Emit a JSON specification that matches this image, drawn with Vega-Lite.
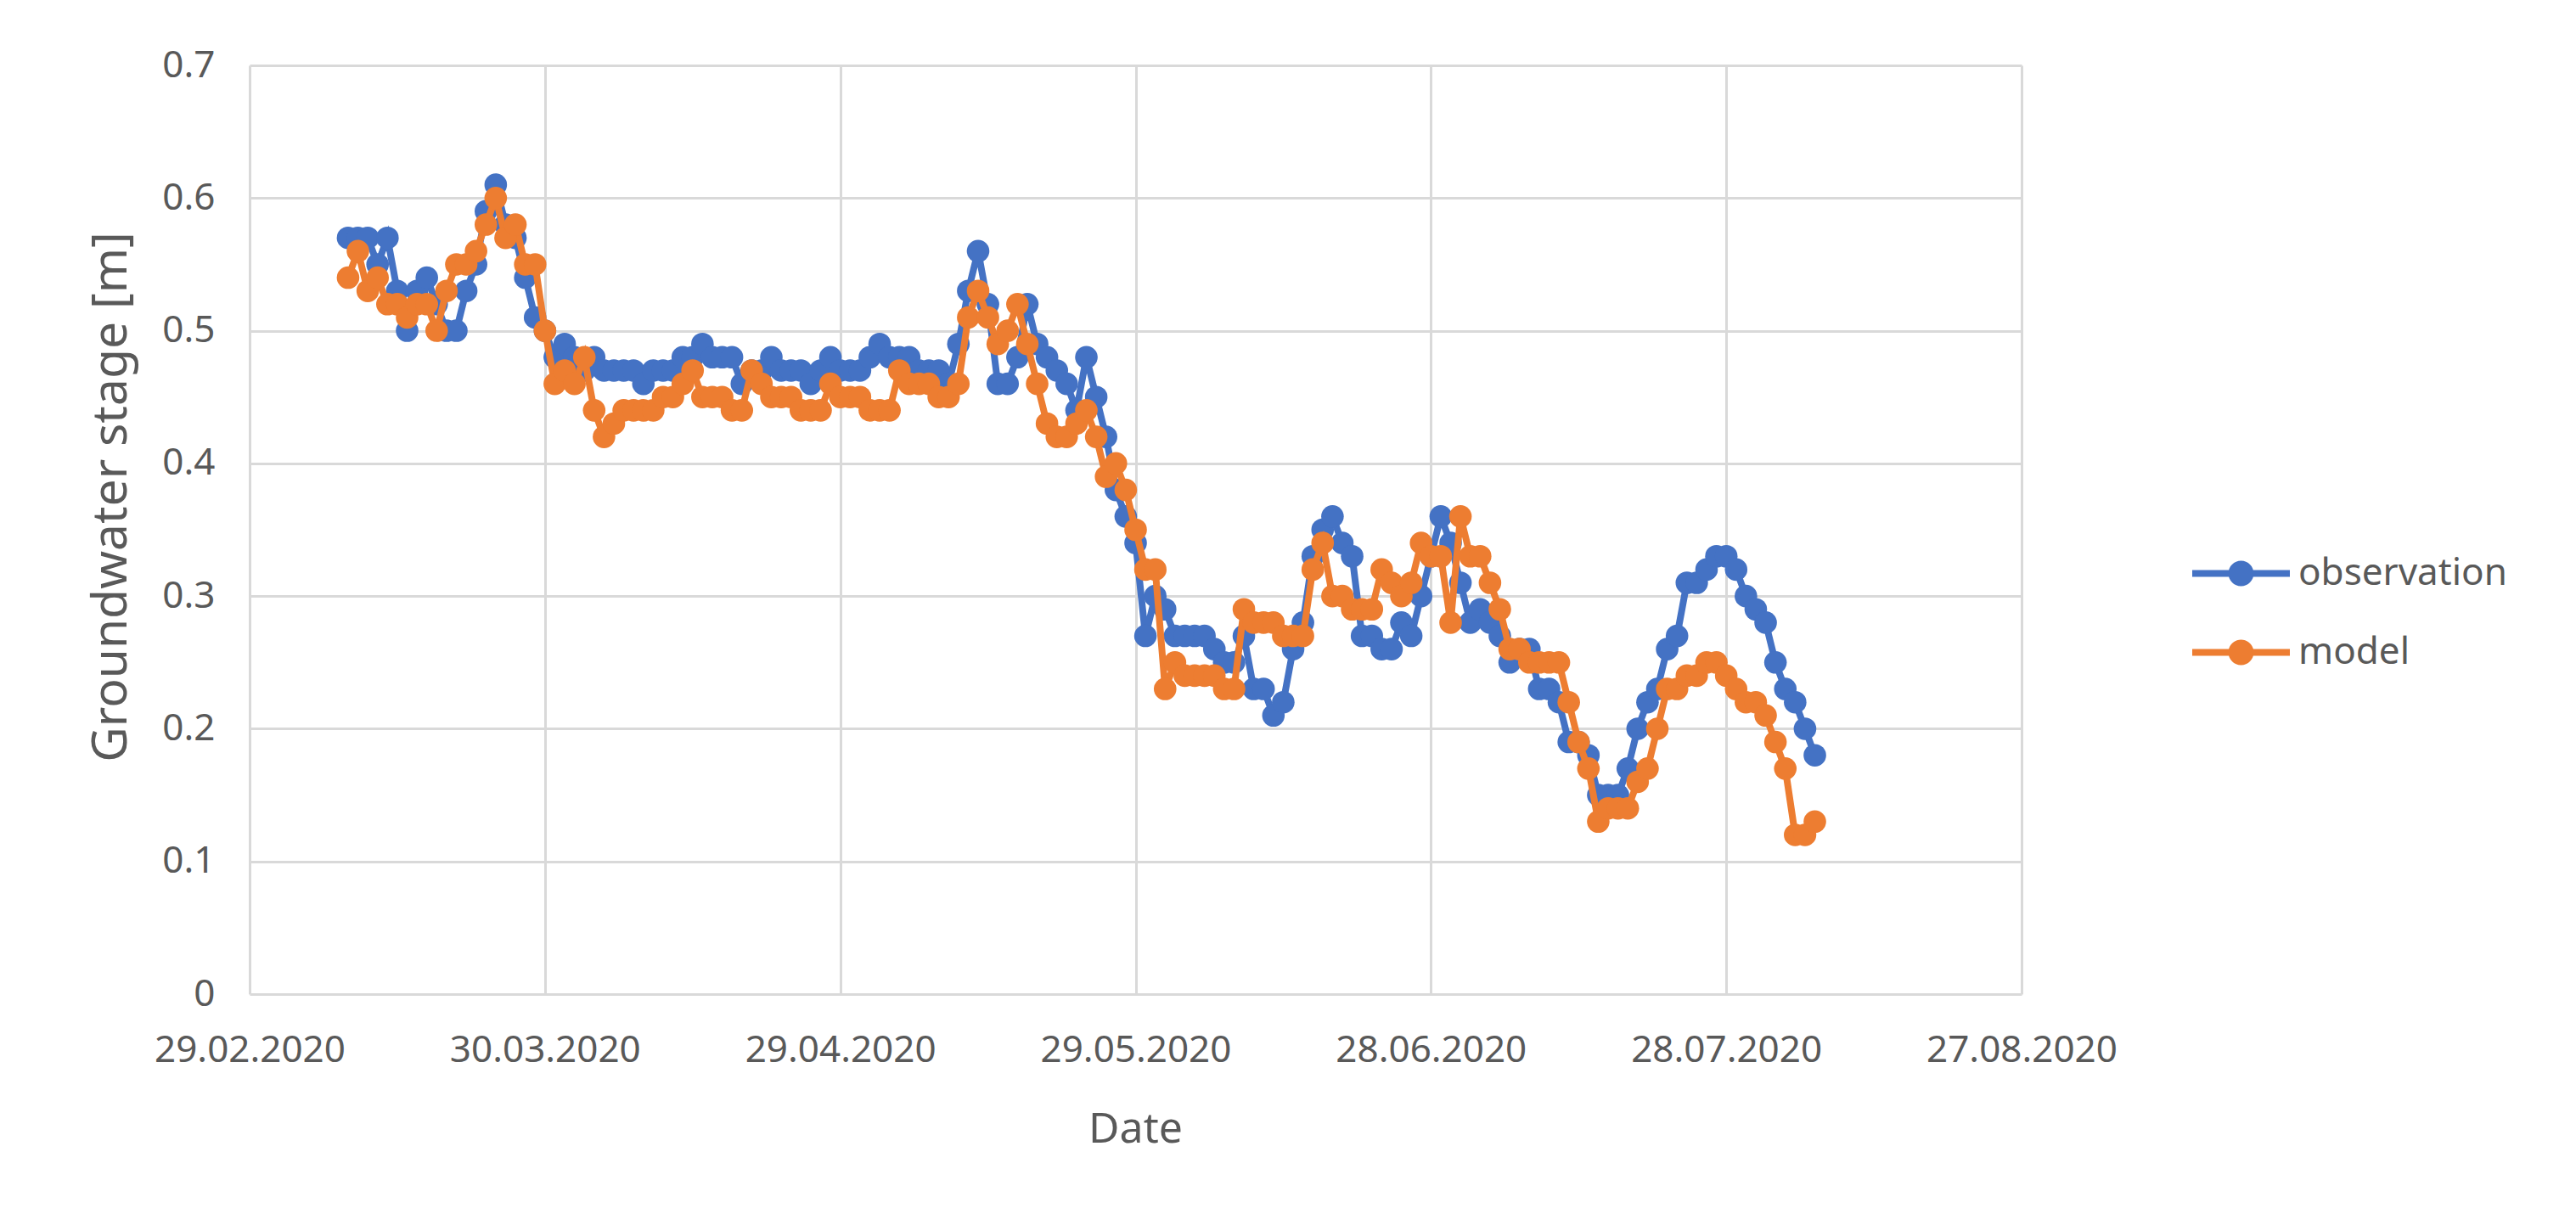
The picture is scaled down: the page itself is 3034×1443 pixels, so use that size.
{
"$schema": "https://vega.github.io/schema/vega-lite/v6.json",
"width": 2087,
"height": 1094,
"autosize": {"type": "none"},
"padding": {"left": 294, "top": 77, "right": 653, "bottom": 272},
"background": "white",
"config": {"view": {"stroke": null}},
"data": {"values": [
{"date":"2020-03-10","series":"observation","value":0.57},
{"date":"2020-03-11","series":"observation","value":0.57},
{"date":"2020-03-12","series":"observation","value":0.57},
{"date":"2020-03-13","series":"observation","value":0.55},
{"date":"2020-03-14","series":"observation","value":0.57},
{"date":"2020-03-15","series":"observation","value":0.53},
{"date":"2020-03-16","series":"observation","value":0.50},
{"date":"2020-03-17","series":"observation","value":0.53},
{"date":"2020-03-18","series":"observation","value":0.54},
{"date":"2020-03-19","series":"observation","value":0.52},
{"date":"2020-03-20","series":"observation","value":0.50},
{"date":"2020-03-21","series":"observation","value":0.50},
{"date":"2020-03-22","series":"observation","value":0.53},
{"date":"2020-03-23","series":"observation","value":0.55},
{"date":"2020-03-24","series":"observation","value":0.59},
{"date":"2020-03-25","series":"observation","value":0.61},
{"date":"2020-03-26","series":"observation","value":0.58},
{"date":"2020-03-27","series":"observation","value":0.57},
{"date":"2020-03-28","series":"observation","value":0.54},
{"date":"2020-03-29","series":"observation","value":0.51},
{"date":"2020-03-30","series":"observation","value":0.50},
{"date":"2020-03-31","series":"observation","value":0.48},
{"date":"2020-04-01","series":"observation","value":0.49},
{"date":"2020-04-02","series":"observation","value":0.48},
{"date":"2020-04-03","series":"observation","value":0.47},
{"date":"2020-04-04","series":"observation","value":0.48},
{"date":"2020-04-05","series":"observation","value":0.47},
{"date":"2020-04-06","series":"observation","value":0.47},
{"date":"2020-04-07","series":"observation","value":0.47},
{"date":"2020-04-08","series":"observation","value":0.47},
{"date":"2020-04-09","series":"observation","value":0.46},
{"date":"2020-04-10","series":"observation","value":0.47},
{"date":"2020-04-11","series":"observation","value":0.47},
{"date":"2020-04-12","series":"observation","value":0.47},
{"date":"2020-04-13","series":"observation","value":0.48},
{"date":"2020-04-14","series":"observation","value":0.48},
{"date":"2020-04-15","series":"observation","value":0.49},
{"date":"2020-04-16","series":"observation","value":0.48},
{"date":"2020-04-17","series":"observation","value":0.48},
{"date":"2020-04-18","series":"observation","value":0.48},
{"date":"2020-04-19","series":"observation","value":0.46},
{"date":"2020-04-20","series":"observation","value":0.47},
{"date":"2020-04-21","series":"observation","value":0.47},
{"date":"2020-04-22","series":"observation","value":0.48},
{"date":"2020-04-23","series":"observation","value":0.47},
{"date":"2020-04-24","series":"observation","value":0.47},
{"date":"2020-04-25","series":"observation","value":0.47},
{"date":"2020-04-26","series":"observation","value":0.46},
{"date":"2020-04-27","series":"observation","value":0.47},
{"date":"2020-04-28","series":"observation","value":0.48},
{"date":"2020-04-29","series":"observation","value":0.47},
{"date":"2020-04-30","series":"observation","value":0.47},
{"date":"2020-05-01","series":"observation","value":0.47},
{"date":"2020-05-02","series":"observation","value":0.48},
{"date":"2020-05-03","series":"observation","value":0.49},
{"date":"2020-05-04","series":"observation","value":0.48},
{"date":"2020-05-05","series":"observation","value":0.48},
{"date":"2020-05-06","series":"observation","value":0.48},
{"date":"2020-05-07","series":"observation","value":0.47},
{"date":"2020-05-08","series":"observation","value":0.47},
{"date":"2020-05-09","series":"observation","value":0.47},
{"date":"2020-05-10","series":"observation","value":0.46},
{"date":"2020-05-11","series":"observation","value":0.49},
{"date":"2020-05-12","series":"observation","value":0.53},
{"date":"2020-05-13","series":"observation","value":0.56},
{"date":"2020-05-14","series":"observation","value":0.52},
{"date":"2020-05-15","series":"observation","value":0.46},
{"date":"2020-05-16","series":"observation","value":0.46},
{"date":"2020-05-17","series":"observation","value":0.48},
{"date":"2020-05-18","series":"observation","value":0.52},
{"date":"2020-05-19","series":"observation","value":0.49},
{"date":"2020-05-20","series":"observation","value":0.48},
{"date":"2020-05-21","series":"observation","value":0.47},
{"date":"2020-05-22","series":"observation","value":0.46},
{"date":"2020-05-23","series":"observation","value":0.44},
{"date":"2020-05-24","series":"observation","value":0.48},
{"date":"2020-05-25","series":"observation","value":0.45},
{"date":"2020-05-26","series":"observation","value":0.42},
{"date":"2020-05-27","series":"observation","value":0.38},
{"date":"2020-05-28","series":"observation","value":0.36},
{"date":"2020-05-29","series":"observation","value":0.34},
{"date":"2020-05-30","series":"observation","value":0.27},
{"date":"2020-05-31","series":"observation","value":0.30},
{"date":"2020-06-01","series":"observation","value":0.29},
{"date":"2020-06-02","series":"observation","value":0.27},
{"date":"2020-06-03","series":"observation","value":0.27},
{"date":"2020-06-04","series":"observation","value":0.27},
{"date":"2020-06-05","series":"observation","value":0.27},
{"date":"2020-06-06","series":"observation","value":0.26},
{"date":"2020-06-07","series":"observation","value":0.25},
{"date":"2020-06-08","series":"observation","value":0.25},
{"date":"2020-06-09","series":"observation","value":0.27},
{"date":"2020-06-10","series":"observation","value":0.23},
{"date":"2020-06-11","series":"observation","value":0.23},
{"date":"2020-06-12","series":"observation","value":0.21},
{"date":"2020-06-13","series":"observation","value":0.22},
{"date":"2020-06-14","series":"observation","value":0.26},
{"date":"2020-06-15","series":"observation","value":0.28},
{"date":"2020-06-16","series":"observation","value":0.33},
{"date":"2020-06-17","series":"observation","value":0.35},
{"date":"2020-06-18","series":"observation","value":0.36},
{"date":"2020-06-19","series":"observation","value":0.34},
{"date":"2020-06-20","series":"observation","value":0.33},
{"date":"2020-06-21","series":"observation","value":0.27},
{"date":"2020-06-22","series":"observation","value":0.27},
{"date":"2020-06-23","series":"observation","value":0.26},
{"date":"2020-06-24","series":"observation","value":0.26},
{"date":"2020-06-25","series":"observation","value":0.28},
{"date":"2020-06-26","series":"observation","value":0.27},
{"date":"2020-06-27","series":"observation","value":0.30},
{"date":"2020-06-28","series":"observation","value":0.33},
{"date":"2020-06-29","series":"observation","value":0.36},
{"date":"2020-06-30","series":"observation","value":0.34},
{"date":"2020-07-01","series":"observation","value":0.31},
{"date":"2020-07-02","series":"observation","value":0.28},
{"date":"2020-07-03","series":"observation","value":0.29},
{"date":"2020-07-04","series":"observation","value":0.28},
{"date":"2020-07-05","series":"observation","value":0.27},
{"date":"2020-07-06","series":"observation","value":0.25},
{"date":"2020-07-07","series":"observation","value":0.26},
{"date":"2020-07-08","series":"observation","value":0.26},
{"date":"2020-07-09","series":"observation","value":0.23},
{"date":"2020-07-10","series":"observation","value":0.23},
{"date":"2020-07-11","series":"observation","value":0.22},
{"date":"2020-07-12","series":"observation","value":0.19},
{"date":"2020-07-13","series":"observation","value":0.19},
{"date":"2020-07-14","series":"observation","value":0.18},
{"date":"2020-07-15","series":"observation","value":0.15},
{"date":"2020-07-16","series":"observation","value":0.15},
{"date":"2020-07-17","series":"observation","value":0.15},
{"date":"2020-07-18","series":"observation","value":0.17},
{"date":"2020-07-19","series":"observation","value":0.20},
{"date":"2020-07-20","series":"observation","value":0.22},
{"date":"2020-07-21","series":"observation","value":0.23},
{"date":"2020-07-22","series":"observation","value":0.26},
{"date":"2020-07-23","series":"observation","value":0.27},
{"date":"2020-07-24","series":"observation","value":0.31},
{"date":"2020-07-25","series":"observation","value":0.31},
{"date":"2020-07-26","series":"observation","value":0.32},
{"date":"2020-07-27","series":"observation","value":0.33},
{"date":"2020-07-28","series":"observation","value":0.33},
{"date":"2020-07-29","series":"observation","value":0.32},
{"date":"2020-07-30","series":"observation","value":0.30},
{"date":"2020-07-31","series":"observation","value":0.29},
{"date":"2020-08-01","series":"observation","value":0.28},
{"date":"2020-08-02","series":"observation","value":0.25},
{"date":"2020-08-03","series":"observation","value":0.23},
{"date":"2020-08-04","series":"observation","value":0.22},
{"date":"2020-08-05","series":"observation","value":0.20},
{"date":"2020-08-06","series":"observation","value":0.18},
{"date":"2020-03-10","series":"model","value":0.54},
{"date":"2020-03-11","series":"model","value":0.56},
{"date":"2020-03-12","series":"model","value":0.53},
{"date":"2020-03-13","series":"model","value":0.54},
{"date":"2020-03-14","series":"model","value":0.52},
{"date":"2020-03-15","series":"model","value":0.52},
{"date":"2020-03-16","series":"model","value":0.51},
{"date":"2020-03-17","series":"model","value":0.52},
{"date":"2020-03-18","series":"model","value":0.52},
{"date":"2020-03-19","series":"model","value":0.50},
{"date":"2020-03-20","series":"model","value":0.53},
{"date":"2020-03-21","series":"model","value":0.55},
{"date":"2020-03-22","series":"model","value":0.55},
{"date":"2020-03-23","series":"model","value":0.56},
{"date":"2020-03-24","series":"model","value":0.58},
{"date":"2020-03-25","series":"model","value":0.60},
{"date":"2020-03-26","series":"model","value":0.57},
{"date":"2020-03-27","series":"model","value":0.58},
{"date":"2020-03-28","series":"model","value":0.55},
{"date":"2020-03-29","series":"model","value":0.55},
{"date":"2020-03-30","series":"model","value":0.50},
{"date":"2020-03-31","series":"model","value":0.46},
{"date":"2020-04-01","series":"model","value":0.47},
{"date":"2020-04-02","series":"model","value":0.46},
{"date":"2020-04-03","series":"model","value":0.48},
{"date":"2020-04-04","series":"model","value":0.44},
{"date":"2020-04-05","series":"model","value":0.42},
{"date":"2020-04-06","series":"model","value":0.43},
{"date":"2020-04-07","series":"model","value":0.44},
{"date":"2020-04-08","series":"model","value":0.44},
{"date":"2020-04-09","series":"model","value":0.44},
{"date":"2020-04-10","series":"model","value":0.44},
{"date":"2020-04-11","series":"model","value":0.45},
{"date":"2020-04-12","series":"model","value":0.45},
{"date":"2020-04-13","series":"model","value":0.46},
{"date":"2020-04-14","series":"model","value":0.47},
{"date":"2020-04-15","series":"model","value":0.45},
{"date":"2020-04-16","series":"model","value":0.45},
{"date":"2020-04-17","series":"model","value":0.45},
{"date":"2020-04-18","series":"model","value":0.44},
{"date":"2020-04-19","series":"model","value":0.44},
{"date":"2020-04-20","series":"model","value":0.47},
{"date":"2020-04-21","series":"model","value":0.46},
{"date":"2020-04-22","series":"model","value":0.45},
{"date":"2020-04-23","series":"model","value":0.45},
{"date":"2020-04-24","series":"model","value":0.45},
{"date":"2020-04-25","series":"model","value":0.44},
{"date":"2020-04-26","series":"model","value":0.44},
{"date":"2020-04-27","series":"model","value":0.44},
{"date":"2020-04-28","series":"model","value":0.46},
{"date":"2020-04-29","series":"model","value":0.45},
{"date":"2020-04-30","series":"model","value":0.45},
{"date":"2020-05-01","series":"model","value":0.45},
{"date":"2020-05-02","series":"model","value":0.44},
{"date":"2020-05-03","series":"model","value":0.44},
{"date":"2020-05-04","series":"model","value":0.44},
{"date":"2020-05-05","series":"model","value":0.47},
{"date":"2020-05-06","series":"model","value":0.46},
{"date":"2020-05-07","series":"model","value":0.46},
{"date":"2020-05-08","series":"model","value":0.46},
{"date":"2020-05-09","series":"model","value":0.45},
{"date":"2020-05-10","series":"model","value":0.45},
{"date":"2020-05-11","series":"model","value":0.46},
{"date":"2020-05-12","series":"model","value":0.51},
{"date":"2020-05-13","series":"model","value":0.53},
{"date":"2020-05-14","series":"model","value":0.51},
{"date":"2020-05-15","series":"model","value":0.49},
{"date":"2020-05-16","series":"model","value":0.50},
{"date":"2020-05-17","series":"model","value":0.52},
{"date":"2020-05-18","series":"model","value":0.49},
{"date":"2020-05-19","series":"model","value":0.46},
{"date":"2020-05-20","series":"model","value":0.43},
{"date":"2020-05-21","series":"model","value":0.42},
{"date":"2020-05-22","series":"model","value":0.42},
{"date":"2020-05-23","series":"model","value":0.43},
{"date":"2020-05-24","series":"model","value":0.44},
{"date":"2020-05-25","series":"model","value":0.42},
{"date":"2020-05-26","series":"model","value":0.39},
{"date":"2020-05-27","series":"model","value":0.40},
{"date":"2020-05-28","series":"model","value":0.38},
{"date":"2020-05-29","series":"model","value":0.35},
{"date":"2020-05-30","series":"model","value":0.32},
{"date":"2020-05-31","series":"model","value":0.32},
{"date":"2020-06-01","series":"model","value":0.23},
{"date":"2020-06-02","series":"model","value":0.25},
{"date":"2020-06-03","series":"model","value":0.24},
{"date":"2020-06-04","series":"model","value":0.24},
{"date":"2020-06-05","series":"model","value":0.24},
{"date":"2020-06-06","series":"model","value":0.24},
{"date":"2020-06-07","series":"model","value":0.23},
{"date":"2020-06-08","series":"model","value":0.23},
{"date":"2020-06-09","series":"model","value":0.29},
{"date":"2020-06-10","series":"model","value":0.28},
{"date":"2020-06-11","series":"model","value":0.28},
{"date":"2020-06-12","series":"model","value":0.28},
{"date":"2020-06-13","series":"model","value":0.27},
{"date":"2020-06-14","series":"model","value":0.27},
{"date":"2020-06-15","series":"model","value":0.27},
{"date":"2020-06-16","series":"model","value":0.32},
{"date":"2020-06-17","series":"model","value":0.34},
{"date":"2020-06-18","series":"model","value":0.30},
{"date":"2020-06-19","series":"model","value":0.30},
{"date":"2020-06-20","series":"model","value":0.29},
{"date":"2020-06-21","series":"model","value":0.29},
{"date":"2020-06-22","series":"model","value":0.29},
{"date":"2020-06-23","series":"model","value":0.32},
{"date":"2020-06-24","series":"model","value":0.31},
{"date":"2020-06-25","series":"model","value":0.30},
{"date":"2020-06-26","series":"model","value":0.31},
{"date":"2020-06-27","series":"model","value":0.34},
{"date":"2020-06-28","series":"model","value":0.33},
{"date":"2020-06-29","series":"model","value":0.33},
{"date":"2020-06-30","series":"model","value":0.28},
{"date":"2020-07-01","series":"model","value":0.36},
{"date":"2020-07-02","series":"model","value":0.33},
{"date":"2020-07-03","series":"model","value":0.33},
{"date":"2020-07-04","series":"model","value":0.31},
{"date":"2020-07-05","series":"model","value":0.29},
{"date":"2020-07-06","series":"model","value":0.26},
{"date":"2020-07-07","series":"model","value":0.26},
{"date":"2020-07-08","series":"model","value":0.25},
{"date":"2020-07-09","series":"model","value":0.25},
{"date":"2020-07-10","series":"model","value":0.25},
{"date":"2020-07-11","series":"model","value":0.25},
{"date":"2020-07-12","series":"model","value":0.22},
{"date":"2020-07-13","series":"model","value":0.19},
{"date":"2020-07-14","series":"model","value":0.17},
{"date":"2020-07-15","series":"model","value":0.13},
{"date":"2020-07-16","series":"model","value":0.14},
{"date":"2020-07-17","series":"model","value":0.14},
{"date":"2020-07-18","series":"model","value":0.14},
{"date":"2020-07-19","series":"model","value":0.16},
{"date":"2020-07-20","series":"model","value":0.17},
{"date":"2020-07-21","series":"model","value":0.20},
{"date":"2020-07-22","series":"model","value":0.23},
{"date":"2020-07-23","series":"model","value":0.23},
{"date":"2020-07-24","series":"model","value":0.24},
{"date":"2020-07-25","series":"model","value":0.24},
{"date":"2020-07-26","series":"model","value":0.25},
{"date":"2020-07-27","series":"model","value":0.25},
{"date":"2020-07-28","series":"model","value":0.24},
{"date":"2020-07-29","series":"model","value":0.23},
{"date":"2020-07-30","series":"model","value":0.22},
{"date":"2020-07-31","series":"model","value":0.22},
{"date":"2020-08-01","series":"model","value":0.21},
{"date":"2020-08-02","series":"model","value":0.19},
{"date":"2020-08-03","series":"model","value":0.17},
{"date":"2020-08-04","series":"model","value":0.12},
{"date":"2020-08-05","series":"model","value":0.12},
{"date":"2020-08-06","series":"model","value":0.13}
]},
"encoding": {
  "x": {
    "field": "date", "type": "temporal",
    "scale": {"type": "utc", "domain": [1582934400000, 1598486400000], "nice": false},
    "axis": {
      "values": [1582934400000, 1585526400000, 1588118400000, 1590710400000, 1593302400000, 1595894400000, 1598486400000],
      "labelExpr": "utcFormat(datum.value, '%d.%m.%Y')",
      "title": "Date",
      "grid": true, "gridColor": "#D9D9D9", "gridWidth": 3,
      "domain": false, "ticks": false, "tickSize": 0,
      "labelPadding": 66, "labelBaseline": "middle", "labelFlush": false, "labelOverlap": false, "labelLimit": 0,
      "labelFont": "Noto Sans", "labelFontSize": 44, "labelColor": "#595959",
      "titleFont": "Noto Sans", "titleFontSize": 50, "titleFontWeight": "normal", "titleColor": "#595959",
      "titleX": 1043, "titleY": 159, "titleBaseline": "middle", "titleAlign": "center", "titleAnchor": null
    }
  },
  "y": {
    "field": "value", "type": "quantitative",
    "scale": {"domain": [0, 0.7], "nice": false, "zero": true},
    "axis": {
      "values": [0, 0.1, 0.2, 0.3, 0.4, 0.5, 0.6, 0.7],
      "format": ".1~f",
      "title": "Groundwater stage [m]",
      "grid": true, "gridColor": "#D9D9D9", "gridWidth": 3,
      "domain": false, "ticks": false, "tickSize": 0,
      "labelPadding": 41, "labelFlush": false, "labelOverlap": false,
      "labelFont": "Noto Sans", "labelFontSize": 44, "labelColor": "#595959",
      "titleFont": "Noto Sans", "titleFontSize": 57, "titleFontWeight": "normal", "titleColor": "#595959",
      "titleX": -163, "titleY": 508, "titleAngle": -90, "titleBaseline": "middle", "titleAlign": "center", "titleAnchor": null
    }
  },
  "color": {
    "field": "series", "type": "nominal",
    "scale": {"domain": ["observation", "model"], "range": ["#4472C4", "#ED7D31"]},
    "legend": {
      "title": null, "orient": "none", "legendX": 2288, "legendY": 541, "padding": 0,
      "symbolType": "M-1,-0.07L-0.2,-0.07L-0.2,0.07L-1,0.07Z M0.2,-0.07L1,-0.07L1,0.07L0.2,0.07Z M-0.26,0A0.26,0.26,0,1,1,0.26,0A0.26,0.26,0,1,1,-0.26,0Z",
      "symbolSize": 13225, "symbolStrokeWidth": 0,
      "labelFont": "Noto Sans", "labelFontSize": 44, "labelColor": "#595959", "labelOffset": 10, "labelLimit": 0,
      "rowPadding": 13,
      "encode": {"symbols": {"update": {"fill": {"scale": "color", "field": "value"}, "fillOpacity": {"value": 1}, "strokeWidth": {"value": 0}}}}
    }
  }
},
"layer": [
  {"transform": [{"filter": "datum.series === 'observation'"}],
   "mark": {"type": "line", "strokeWidth": 8, "point": {"filled": true, "size": 707, "opacity": 1}}},
  {"transform": [{"filter": "datum.series === 'model'"}],
   "mark": {"type": "line", "strokeWidth": 8, "point": {"filled": true, "size": 707, "opacity": 1}}}
]
}
